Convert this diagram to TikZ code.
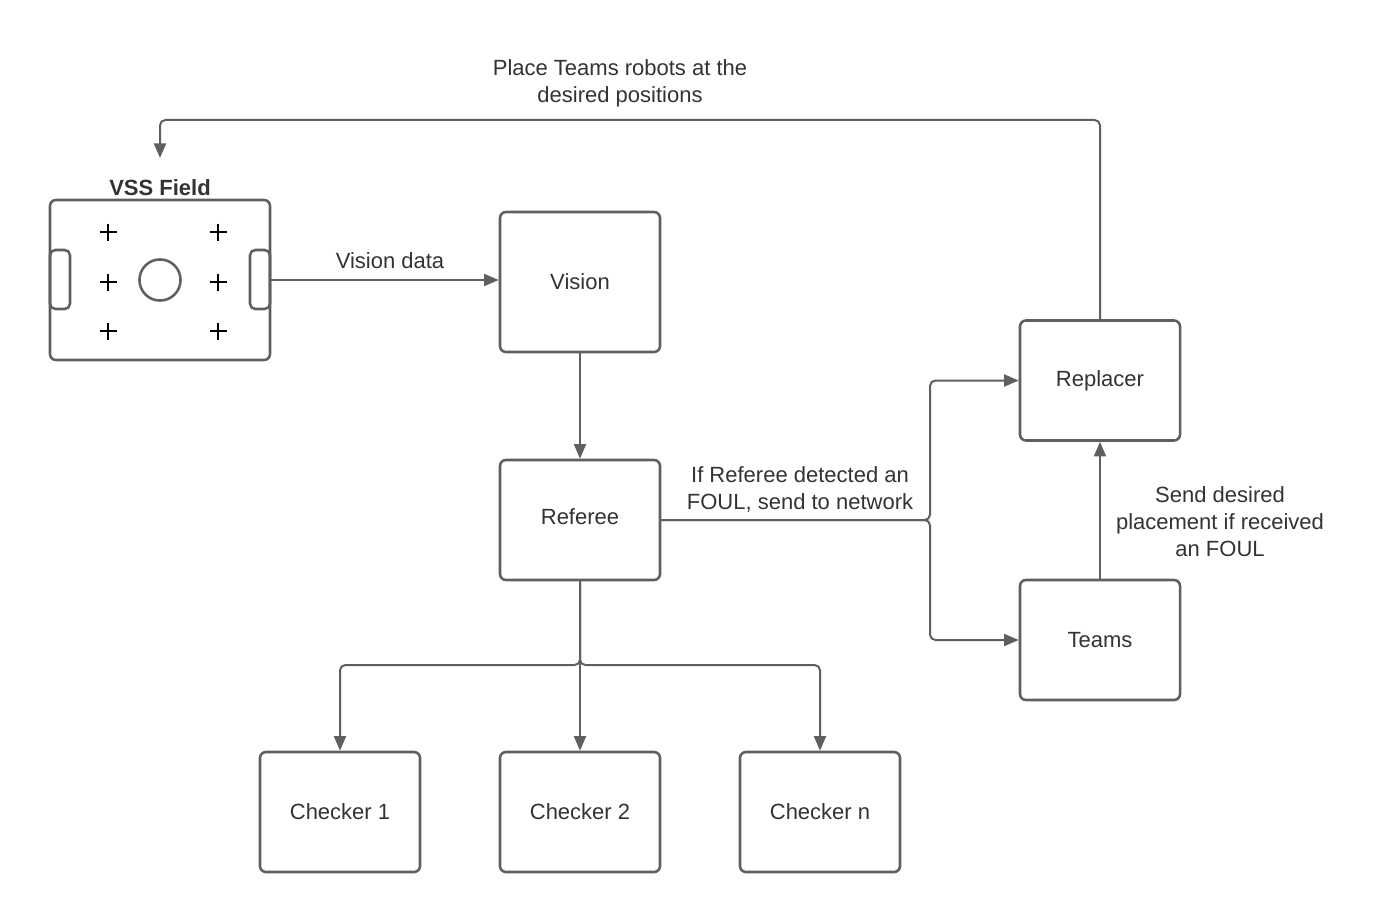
\documentclass[tikz,border=0pt]{standalone}
\usepackage{fontspec}
\setmainfont{Liberation Sans}
\usetikzlibrary{arrows.meta}
\definecolor{ln}{HTML}{5F5F5F}
\definecolor{tx}{HTML}{333333}
\begin{document}
\begin{tikzpicture}[x=0.75pt,y=-0.75pt,
  box/.style={draw=ln,line width=1.9pt,rounded corners=4.5pt,minimum width=120pt,minimum height=90pt,
    font=\fontsize{16.5}{20}\selectfont,text=tx,inner sep=0pt},
  conn/.style={draw=ln,line width=1.5pt,rounded corners=4pt,-{Triangle[length=11pt,width=9pt]}},
  lbl/.style={font=\fontsize{16.5}{20.25}\selectfont,text=tx,align=center,inner sep=0pt},
  plus/.style={draw=black,line width=1.1pt}]
\useasboundingbox (0,0) rectangle (1380,913);
\fill[white] (0,0) rectangle (1380,913);
% field
\node[draw=ln,line width=1.9pt,rounded corners=4.5pt,minimum width=165pt,minimum height=120pt,inner sep=0pt] (field) at (160,280) {};
\node[font=\bfseries\fontsize{16.5}{20}\selectfont,text=tx,inner sep=0pt] (fieldlbl) at (160,188) {VSS Field};
\draw[ln,line width=1.9pt,rounded corners=4pt] (50,250) rectangle (70,309);
\draw[ln,line width=1.9pt,rounded corners=4pt] (250,250) rectangle (270,309);
\draw[ln,line width=1.9pt] (160,280) circle[radius=15.4pt];
\foreach \px in {108,218}{
  \foreach \py in {232,282,331}{
    \draw[plus] (\px-8.5,\py) -- (\px+8.5,\py);
    \draw[plus] (\px,\py-8.5) -- (\px,\py+8.5);
  }}
% boxes
\node[box,minimum height=105pt,text depth=0pt] (vision) at (580,282) {Vision};
\node[box,text depth=0pt,text height=10pt] (referee) at (580,520) {\raisebox{2pt}{Referee}};
\node[box] (replacer) at (1100,380.5) {Replacer};
\node[box,text depth=0pt] (teams) at (1100,640) {Teams};
\node[box] (c1) at (340,812) {Checker 1};
\node[box] (c2) at (580,812) {Checker 2};
\node[box] (cn) at (820,812) {Checker n};
\coordinate (fieldout) at (270,280);
\coordinate (fieldin) at (160,158);
% connectors
\draw[conn] (fieldout) -- (vision.west |- fieldout);
\node[lbl] (vdata) at (390,261) {Vision data};
\draw[conn] (vision.south) -- (referee.north);
\draw[conn] (referee.east) -- (930,520) |- (replacer.west);
\draw[conn] (referee.east) -- (930,520) |- (teams.west);
\node[lbl] (foul) at (800,489.5) {If Referee detected an\\FOUL, send to network};
\draw[conn] (teams.north) -- (replacer.south);
\node[lbl] (send) at (1220,522) {Send desired\\placement if received\\an FOUL};
\draw[conn] (replacer.north) |- (600,120) -| (fieldin);
\node[lbl] (place) at (620,83) {Place Teams robots at the\\desired positions};
\draw[conn] (referee.south) -- (580,665) -| (c1.north);
\draw[conn] (referee.south) -- (c2.north);
\draw[conn] (referee.south) -- (580,665) -| (cn.north);
\end{tikzpicture}
\end{document}
